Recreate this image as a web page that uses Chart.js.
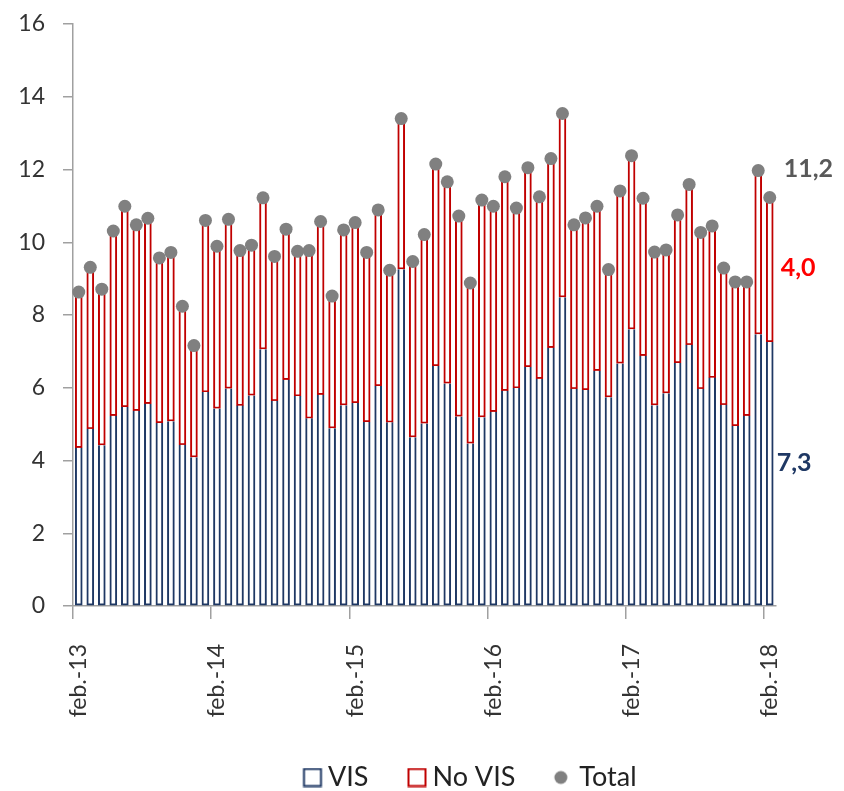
<!DOCTYPE html>
<html>
<head>
<meta charset="utf-8">
<script src="https://cdn.jsdelivr.net/npm/chart.js@4/dist/chart.umd.min.js"></script>
<style>
html,body{margin:0;padding:0;background:#fff;}
canvas{display:block;}
</style>
</head>
<body>
<canvas id="c" width="844" height="791"></canvas>
<script>
const categories = [
  'feb.-13','mar.-13','abr.-13','may.-13','jun.-13','jul.-13','ago.-13','sep.-13','oct.-13','nov.-13','dic.-13','ene.-14',
  'feb.-14','mar.-14','abr.-14','may.-14','jun.-14','jul.-14','ago.-14','sep.-14','oct.-14','nov.-14','dic.-14','ene.-15',
  'feb.-15','mar.-15','abr.-15','may.-15','jun.-15','jul.-15','ago.-15','sep.-15','oct.-15','nov.-15','dic.-15','ene.-16',
  'feb.-16','mar.-16','abr.-16','may.-16','jun.-16','jul.-16','ago.-16','sep.-16','oct.-16','nov.-16','dic.-16','ene.-17',
  'feb.-17','mar.-17','abr.-17','may.-17','jun.-17','jul.-17','ago.-17','sep.-17','oct.-17','nov.-17','dic.-17','ene.-18',
  'feb.-18'
];

const visValues = [
  4.35,4.87,4.42,5.23,5.47,5.37,5.56,5.03,5.08,4.43,4.09,5.88,
  5.43,5.98,5.51,5.79,7.06,5.64,6.22,5.77,5.16,5.81,4.89,5.52,
  5.58,5.06,6.05,5.05,9.26,4.64,5.02,6.60,6.12,5.21,4.47,5.19,
  5.34,5.92,5.99,6.57,6.25,7.10,8.49,5.97,5.94,6.47,5.74,6.67,
  7.61,6.88,5.52,5.85,6.68,7.18,5.97,6.28,5.53,4.95,5.23,7.47,
  7.26
];

const totalValues = [
  8.63,9.31,8.71,10.31,10.99,10.48,10.66,9.57,9.72,8.24,7.16,10.60,
  9.89,10.63,9.77,9.92,11.22,9.61,10.36,9.75,9.77,10.57,8.52,10.34,
  10.54,9.72,10.89,9.23,13.40,9.47,10.21,12.15,11.66,10.72,8.88,11.16,
  10.99,11.80,10.94,12.05,11.25,12.30,13.54,10.48,10.67,10.99,9.25,11.41,
  12.38,11.21,9.73,9.79,10.75,11.59,10.27,10.45,9.29,8.91,8.91,11.97,
  11.23
];

const noVisValues = totalValues.map((t, i) => Math.round((t - visValues[i]) * 100) / 100);

const seriesNames = ['VIS', 'No VIS', 'Total'];
const yTicks = { min: 0, max: 16, step: 2 };

const NAVY = '#1F3864';
const RED = '#C00000';
const DOT = '#808080';
const AXIS = '#A0A0A0';
const FONT = 'Lato, "Open Sans", sans-serif';

const fmt = v => v.toFixed(1).replace('.', ',');

// legend icons (drawn into small canvases used as point styles)
const P = 40;
function squareIcon(color) {
  const c = document.createElement('canvas');
  c.width = 2 * P; c.height = 20;
  const g = c.getContext('2d');
  g.fillStyle = '#fff';
  g.fillRect(49.5, 1.5, 17, 17);
  g.strokeStyle = color; g.lineWidth = 2;
  g.strokeRect(49.5, 1.5, 17, 17);
  return c;
}
function dotIcon(color) {
  const c = document.createElement('canvas');
  c.width = 2 * P; c.height = 20;
  const g = c.getContext('2d');
  g.fillStyle = color;
  g.beginPath(); g.arc(55, 10, 6.5, 0, Math.PI * 2); g.fill();
  return c;
}

const endLabels = {
  id: 'endLabels',
  afterDatasetsDraw(chart) {
    const { ctx, scales: { x, y } } = chart;
    const i = categories.length - 1;
    const px = x.getPixelForValue(i);
    ctx.save();
    ctx.font = 'bold 25px ' + FONT;
    ctx.textAlign = 'left';
    ctx.textBaseline = 'middle';
    ctx.fillStyle = '#595959';
    ctx.fillText(fmt(totalValues[i]), px + 14, y.getPixelForValue(totalValues[i]) - 29);
    ctx.fillStyle = '#FF0000';
    ctx.fillText(fmt(noVisValues[i]), px + 11, y.getPixelForValue(visValues[i] + noVisValues[i] / 2) - 2);
    ctx.fillStyle = NAVY;
    ctx.fillText(fmt(visValues[i]), px + 7, y.getPixelForValue(visValues[i] / 2) - 11);
    ctx.restore();
  }
};

new Chart(document.getElementById('c'), {
  type: 'bar',
  data: {
    labels: categories,
    datasets: [
      {
        label: seriesNames[0], data: visValues, stack: 'bars', order: 1,
        backgroundColor: '#FFFFFF', borderColor: NAVY, borderWidth: 2,
        borderSkipped: 'end', barThickness: 7
      },
      {
        label: seriesNames[1], data: noVisValues, stack: 'bars', order: 2,
        backgroundColor: '#FFFFFF', borderColor: RED, borderWidth: 2,
        borderSkipped: false, barThickness: 7
      },
      {
        type: 'line', label: seriesNames[2], data: totalValues, stack: 'total', order: 0,
        showLine: false, pointRadius: 6.5, pointHoverRadius: 6.5,
        pointBackgroundColor: DOT, pointBorderWidth: 0, borderColor: DOT, backgroundColor: DOT
      }
    ]
  },
  options: {
    responsive: false,
    animation: false,
    layout: { padding: { left: 0, right: -67, top: 24, bottom: -10 } },
    scales: {
      x: {
        stacked: true,
        offset: true,
        grid: {
          offset: true, drawOnChartArea: false, drawTicks: true, tickLength: 13, lineWidth: 1.5,
          color: ctx => (ctx.index !== undefined && ctx.index % 12 === 0) ? AXIS : 'rgba(0,0,0,0)'
        },
        border: { display: true, color: AXIS, width: 1.5 },
        ticks: {
          autoSkip: false, maxRotation: 90, minRotation: 90, padding: 25,
          color: '#333', font: { family: FONT, size: 23 },
          callback: function (value, index) { return index % 12 === 0 ? this.getLabelForValue(value) : ''; }
        },
        afterFit: s => { s.height = 147.5; }
      },
      y: {
        stacked: true,
        min: yTicks.min, max: yTicks.max,
        grid: { drawOnChartArea: false, drawTicks: true, tickLength: 10, color: AXIS, lineWidth: 1.5 },
        border: { display: true, color: AXIS, width: 1.5 },
        ticks: { stepSize: yTicks.step, padding: 18, color: '#333', font: { family: FONT, size: 23 } },
        afterFit: s => { s.width = 73; s.paddingTop = 12; s.paddingBottom = 12; }
      },
      yR: {
        type: 'linear', position: 'right', display: true,
        grid: { display: false }, border: { display: false }, ticks: { display: false },
        afterFit: s => { s.width = 135.5; }
      }
    },
    plugins: {
      tooltip: { enabled: false },
      legend: {
        position: 'bottom',
        align: 'center',
        labels: {
          usePointStyle: true,
          pointStyleWidth: P,
          padding: 10.5,
          color: '#222',
          font: { family: FONT, size: 27 },
          generateLabels: () => [
            { text: seriesNames[0], pointStyle: squareIcon(NAVY), fillStyle: '#fff', strokeStyle: NAVY, lineWidth: 0, hidden: false, datasetIndex: 0, fontColor: '#222' },
            { text: seriesNames[1], pointStyle: squareIcon(RED), fillStyle: '#fff', strokeStyle: RED, lineWidth: 0, hidden: false, datasetIndex: 1, fontColor: '#222' },
            { text: seriesNames[2], pointStyle: dotIcon(DOT), fillStyle: DOT, strokeStyle: DOT, lineWidth: 0, hidden: false, datasetIndex: 2, fontColor: '#222' }
          ]
        }
      }
    }
  },
  plugins: [endLabels]
});
</script>
</body>
</html>
